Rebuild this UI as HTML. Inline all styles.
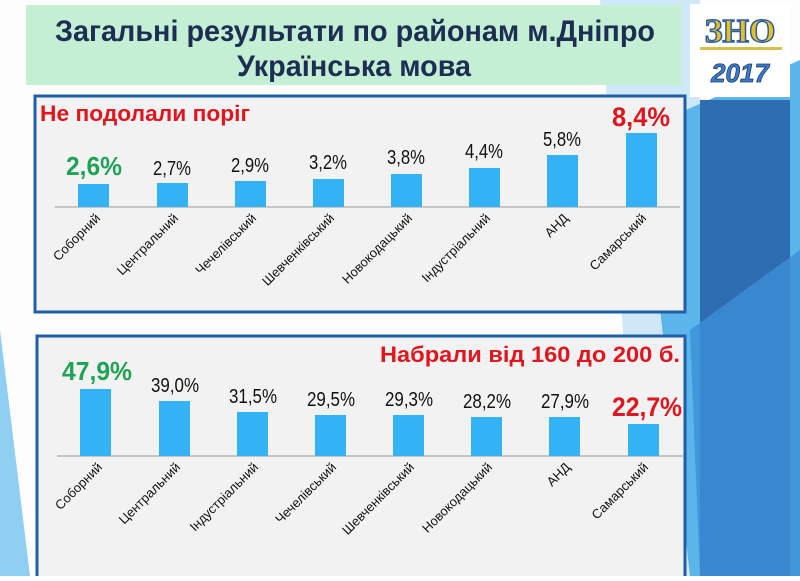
<!DOCTYPE html>
<html><head><meta charset="utf-8"><style>
body{margin:0;width:800px;height:576px;overflow:hidden;background:#fff;font-family:"Liberation Sans","DejaVu Sans",sans-serif}
</style></head><body>
<svg width="800" height="576" viewBox="0 0 800 576" xmlns="http://www.w3.org/2000/svg" font-family="Liberation Sans, DejaVu Sans, sans-serif">
<rect width="800" height="576" fill="#fdfdfd"/>
<polygon points="600,0 700,0 700,576 640,576" fill="#cfe8f7"/>
<polygon points="640,130 800,60 800,576 690,576" fill="#5bb4ea"/>
<polygon points="700,100 790,100 790,576 700,576" fill="#2f6db3"/>
<polygon points="690,330 800,250 800,576 700,576" fill="#3c8fd6" opacity="0.8"/>
<polygon points="0,330 30,576 0,576" fill="#8fcff2"/>
<rect x="26" y="5" width="656" height="80" fill="#c5efd5"/>
<text x="355" y="41" text-anchor="middle" font-size="30" font-weight="bold" fill="#1c2e52" textLength="600" lengthAdjust="spacingAndGlyphs">Загальні результати по районам м.Дніпро</text>
<text x="354" y="76" text-anchor="middle" font-size="30" font-weight="bold" fill="#1c2e52" textLength="234" lengthAdjust="spacingAndGlyphs">Українська мова</text>
<rect x="690" y="4" width="100" height="93" fill="#fff"/>
<text x="740" y="42" text-anchor="middle" font-size="34" font-weight="bold" fill="#e8c020" stroke="#2a5fa8" stroke-width="1.5" font-family="Liberation Serif, serif">ЗНО</text>
<rect x="700" y="47" width="82" height="3" fill="#d8c050"/>
<text x="740" y="82" text-anchor="middle" font-size="26" font-weight="bold" font-style="italic" fill="#3a7cc8" stroke="#1c3e70" stroke-width="0.8">2017</text>
<rect x="35" y="96" width="650" height="216" fill="#f2f2f2" stroke="#1f5fa8" stroke-width="3"/>
<text x="40" y="121" font-size="22" font-weight="bold" fill="#e0161e" textLength="210" lengthAdjust="spacingAndGlyphs">Не подолали поріг</text>
<line x1="55" y1="207" x2="680" y2="207" stroke="#999" stroke-width="1"/>
<g fill="#33b3f5">
<rect x="78" y="184" width="31" height="23"/>
<rect x="157" y="183" width="31" height="24"/>
<rect x="235" y="181" width="31" height="26"/>
<rect x="313" y="179" width="31" height="28"/>
<rect x="391" y="174" width="31" height="33"/>
<rect x="469" y="168" width="31" height="39"/>
<rect x="547" y="155" width="31" height="52"/>
<rect x="626" y="133" width="31" height="74"/>
</g>
<g font-size="20" text-anchor="middle" fill="#111" lengthAdjust="spacingAndGlyphs">
<text x="94" y="175" font-size="26" font-weight="bold" fill="#1fa356" textLength="56" lengthAdjust="spacingAndGlyphs">2,6%</text>
<text x="172" y="175" textLength="38" lengthAdjust="spacingAndGlyphs">2,7%</text>
<text x="250" y="172" textLength="38" lengthAdjust="spacingAndGlyphs">2,9%</text>
<text x="328" y="169" textLength="38" lengthAdjust="spacingAndGlyphs">3,2%</text>
<text x="406" y="164" textLength="38" lengthAdjust="spacingAndGlyphs">3,8%</text>
<text x="484" y="158" textLength="38" lengthAdjust="spacingAndGlyphs">4,4%</text>
<text x="562" y="146" textLength="38" lengthAdjust="spacingAndGlyphs">5,8%</text>
<text x="641" y="126" font-size="27" font-weight="bold" fill="#e0161e" textLength="58" lengthAdjust="spacingAndGlyphs">8,4%</text>
</g>
<g font-size="13" text-anchor="end" fill="#111">
<text transform="translate(101,219) rotate(-45)">Соборний</text>
<text transform="translate(179,219) rotate(-45)">Центральний</text>
<text transform="translate(257,219) rotate(-45)">Чечелівський</text>
<text transform="translate(335,219) rotate(-45)">Шевченківський</text>
<text transform="translate(413,219) rotate(-45)">Новокодацький</text>
<text transform="translate(491,219) rotate(-45)">Індустріальний</text>
<text transform="translate(569,219) rotate(-45)">АНД</text>
<text transform="translate(647,219) rotate(-45)">Самарський</text>
</g>
<rect x="37" y="336" width="648" height="250" fill="#f2f2f2" stroke="#1f5fa8" stroke-width="3"/>
<text x="680" y="362" text-anchor="end" font-size="22" font-weight="bold" fill="#e0161e" textLength="300" lengthAdjust="spacingAndGlyphs">Набрали від 160 до 200 б.</text>
<line x1="57" y1="456" x2="683" y2="456" stroke="#999" stroke-width="1"/>
<g fill="#33b3f5">
<rect x="80" y="389" width="31" height="67"/>
<rect x="159" y="401" width="31" height="55"/>
<rect x="237" y="412" width="31" height="44"/>
<rect x="315" y="415" width="31" height="41"/>
<rect x="393" y="415" width="31" height="41"/>
<rect x="471" y="417" width="31" height="39"/>
<rect x="549" y="417" width="31" height="39"/>
<rect x="628" y="424" width="31" height="32"/>
</g>
<g font-size="20" text-anchor="middle" fill="#111">
<text x="97" y="380" font-size="26" font-weight="bold" fill="#1fa356" textLength="70" lengthAdjust="spacingAndGlyphs">47,9%</text>
<text x="175" y="392" textLength="48" lengthAdjust="spacingAndGlyphs">39,0%</text>
<text x="253" y="403" textLength="48" lengthAdjust="spacingAndGlyphs">31,5%</text>
<text x="331" y="406" textLength="48" lengthAdjust="spacingAndGlyphs">29,5%</text>
<text x="409" y="406" textLength="48" lengthAdjust="spacingAndGlyphs">29,3%</text>
<text x="487" y="408" textLength="48" lengthAdjust="spacingAndGlyphs">28,2%</text>
<text x="565" y="408" textLength="48" lengthAdjust="spacingAndGlyphs">27,9%</text>
<text x="647" y="416" font-size="27" font-weight="bold" fill="#e0161e" textLength="70" lengthAdjust="spacingAndGlyphs">22,7%</text>
</g>
<g font-size="13" text-anchor="end" fill="#111">
<text transform="translate(103,468) rotate(-45)">Соборний</text>
<text transform="translate(181,468) rotate(-45)">Центральний</text>
<text transform="translate(259,468) rotate(-45)">Індустріальний</text>
<text transform="translate(337,468) rotate(-45)">Чечелівський</text>
<text transform="translate(415,468) rotate(-45)">Шевченківський</text>
<text transform="translate(493,468) rotate(-45)">Новокодацький</text>
<text transform="translate(571,468) rotate(-45)">АНД</text>
<text transform="translate(649,468) rotate(-45)">Самарський</text>
</g>
</svg>
</body></html>
